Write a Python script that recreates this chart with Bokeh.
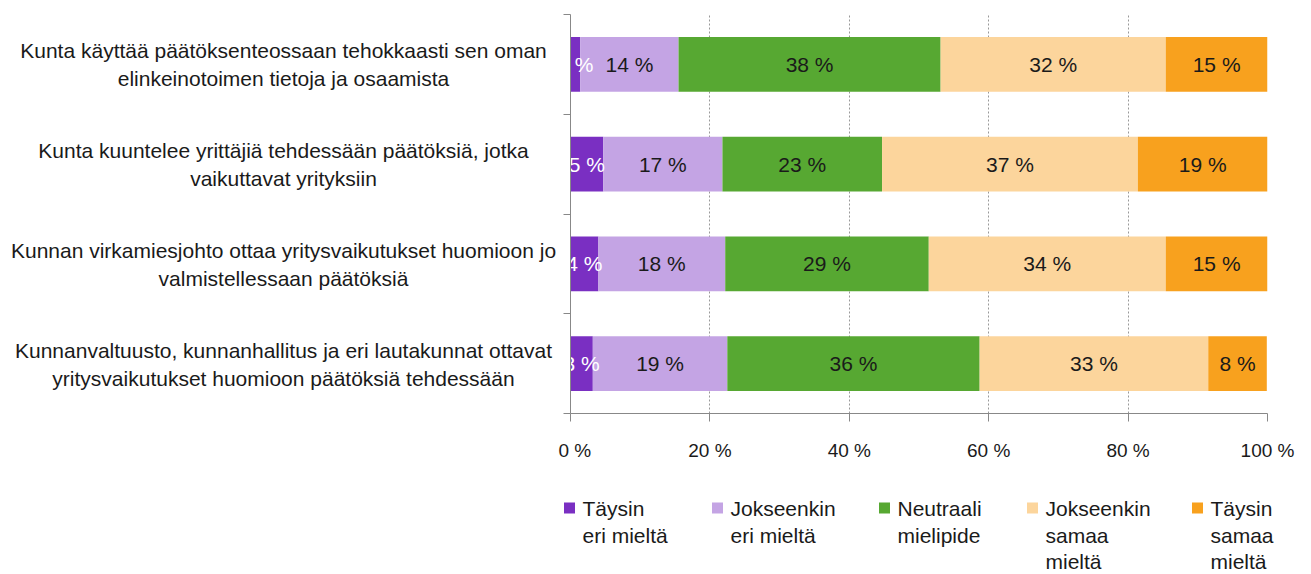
from bokeh.plotting import figure
from bokeh.models import Range1d, FixedTicker, ColumnDataSource
from bokeh.layouts import row, column
from bokeh.core.properties import value
from bokeh.embed import file_html
from bokeh.resources import INLINE

# ---- data ----
categories = [
    ["Kunta käyttää päätöksenteossaan tehokkaasti sen oman", "elinkeinotoimen tietoja ja osaamista"],
    ["Kunta kuuntelee yrittäjiä tehdessään päätöksiä, jotka", "vaikuttavat yrityksiin"],
    ["Kunnan virkamiesjohto ottaa yritysvaikutukset huomioon jo", "valmistellessaan päätöksiä"],
    ["Kunnanvaltuusto, kunnanhallitus ja eri lautakunnat ottavat", "yritysvaikutukset huomioon päätöksiä tehdessään"],
]
series_names = [["Täysin", "eri mieltä"], ["Jokseenkin", "eri mieltä"], ["Neutraali", "mielipide"],
                ["Jokseenkin", "samaa", "mieltä"], ["Täysin", "samaa", "mieltä"]]
taysin_eri = [1.4, 4.7, 4.0, 3.2]
jokseenkin_eri = [14.1, 17.1, 18.2, 19.3]
neutraali = [37.6, 22.9, 29.2, 36.2]
jokseenkin_samaa = [32.3, 36.7, 34.0, 32.8]
taysin_samaa = [14.6, 18.6, 14.6, 8.4]
x_ticks = [0, 20, 40, 60, 80, 100]
x_tick_labels = ["0 %", "20 %", "40 %", "60 %", "80 %", "100 %"]

colors = ["#7A2FC2", "#C4A4E4", "#57A832", "#FCD59C", "#F8A11E"]
text_colors = ["#ffffff", "#1a1a1a", "#1a1a1a", "#1a1a1a", "#1a1a1a"]
FONT = "Liberation Sans"

series = [taysin_eri, jokseenkin_eri, neutraali, jokseenkin_samaa, taysin_samaa]
keys = ["s0", "s1", "s2", "s3", "s4"]
n = len(categories)
ypos = [n - 0.5 - i for i in range(n)]

TOTAL_W = 1303
LEFT_W = 558
TOP_H = 475
LEG_H = 99

data = {"y": ypos}
for k, s in zip(keys, series):
    data[k] = s
source = ColumnDataSource(data)

yr = Range1d(0, n)

# ---- main chart ----
p = figure(width=TOTAL_W - LEFT_W, height=TOP_H, output_backend="svg", toolbar_location=None,
           x_range=Range1d(0, 100), y_range=yr,
           min_border_left=12, min_border_right=36, min_border_top=14, min_border_bottom=62)
p.outline_line_color = None
p.border_fill_color = "white"

p.hbar_stack(keys, y="y", height=0.55, color=colors, line_color=None, source=source)

for j, (s, tc) in enumerate(zip(series, text_colors)):
    xs, ys, ts = [], [], []
    for i in range(n):
        left = sum(series[k][i] for k in range(j))
        xs.append(left + s[i] / 2)
        ys.append(ypos[i])
        ts.append(f"{round(s[i])} %")
    p.text(x=xs, y=ys, text=ts, text_align="center", text_baseline="middle",
           text_color=tc, text_font=value(FONT), text_font_size="21px")

p.xaxis.ticker = FixedTicker(ticks=x_ticks)
p.xaxis.major_label_overrides = {t: l for t, l in zip(x_ticks, x_tick_labels)}
p.xaxis.major_label_text_font = FONT
p.xaxis.major_label_text_font_size = "19px"
p.xaxis.major_label_text_color = "#1a1a1a"
p.xaxis.major_label_standoff = 18
p.xaxis.axis_line_color = "#888888"
p.xaxis.major_tick_line_color = "#888888"
p.xaxis.major_tick_in = 0
p.xaxis.major_tick_out = 8
p.xaxis.minor_tick_line_color = None

p.yaxis.ticker = FixedTicker(ticks=list(range(n + 1)))
p.yaxis.major_label_overrides = {i: "" for i in range(n + 1)}
p.yaxis.major_label_standoff = 0
p.yaxis.axis_line_color = "#888888"
p.yaxis.major_tick_line_color = "#888888"
p.yaxis.major_tick_in = 0
p.yaxis.major_tick_out = 7
p.yaxis.minor_tick_line_color = None

p.xgrid.ticker = FixedTicker(ticks=x_ticks[1:])
p.xgrid.grid_line_color = "#999999"
p.xgrid.grid_line_dash = "2 2"
p.ygrid.grid_line_color = None

# ---- category labels (left panel sharing the y scale) ----
lp = figure(width=LEFT_W, height=TOP_H, output_backend="svg", toolbar_location=None,
            x_range=Range1d(0, LEFT_W), y_range=yr,
            min_border_left=0, min_border_right=0, min_border_top=14, min_border_bottom=62)
lp.axis.visible = False
lp.grid.visible = False
lp.outline_line_color = None
for lines, yv in zip(categories, ypos):
    lp.text(x=[283, 283], y=[yv + 0.135, yv - 0.145], text=lines, text_align="center",
            text_baseline="middle", text_color="#1a1a1a", text_font=value(FONT),
            text_font_size="21px")

# ---- legend panel ----
lg = figure(width=TOTAL_W, height=LEG_H, output_backend="svg", toolbar_location=None,
            x_range=Range1d(0, TOTAL_W), y_range=Range1d(TOP_H + LEG_H, TOP_H),
            min_border=0)
lg.axis.visible = False
lg.grid.visible = False
lg.outline_line_color = None
sq_x = [569, 717, 884, 1032, 1197]
line_y = [508, 535, 561]
for name, col, sx in zip(series_names, colors, sq_x):
    lg.rect(x=[sx], y=[507.5], width=11, height=11, fill_color=col, line_color=None)
    lg.text(x=[sx + 13] * len(name), y=line_y[:len(name)], text=name, text_align="left",
            text_baseline="alphabetic", text_color="#1a1a1a", text_font=value(FONT),
            text_font_size="21px")

layout = column(row(lp, p), lg)
open("out.html", "w").write(file_html(layout, INLINE))
